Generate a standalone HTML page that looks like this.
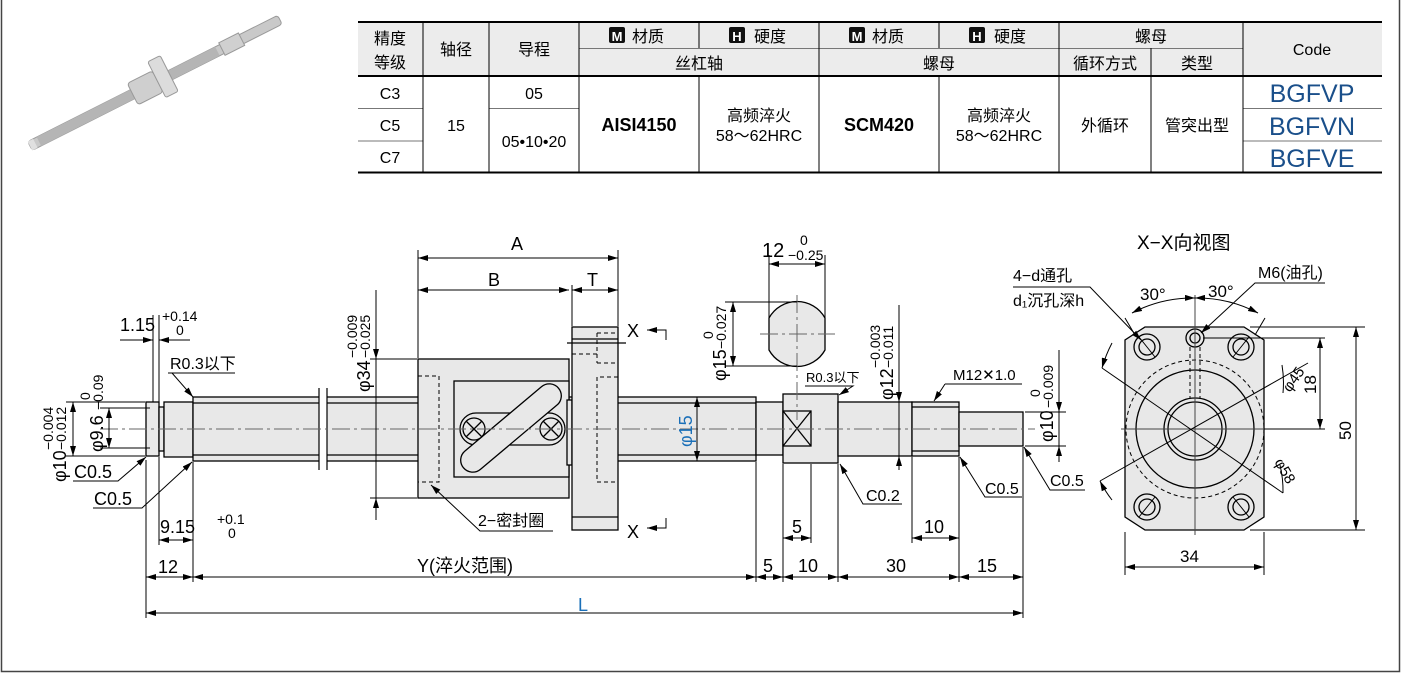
<!DOCTYPE html>
<html><head><meta charset="utf-8"><style>
html,body{margin:0;padding:0;background:#fff;}
svg{display:block;font-family:"Liberation Sans","Noto Sans CJK SC",sans-serif;}
</style></head><body>
<svg width="1401" height="675" viewBox="0 0 1401 675" xmlns="http://www.w3.org/2000/svg">
<defs>
<marker id="a" viewBox="0 0 10 6" refX="10" refY="3" markerWidth="10" markerHeight="6" markerUnits="userSpaceOnUse" orient="auto-start-reverse"><path d="M0,0L10,3L0,6z" fill="#000"/></marker>
</defs>
<path d="M1.5,0V671.5H1399.5V0" fill="none" stroke="#444" stroke-width="1.5"/>

<g transform="translate(30,146) rotate(-26.8)">
<rect x="0" y="-5" width="280" height="10" rx="3" fill="#c9c9c9" stroke="#9a9a9a"/>
<rect x="10" y="-5" width="200" height="10" fill="#b5b5b5"/>
<rect x="115" y="-12" width="28" height="24" rx="3" fill="#cfcfcf" stroke="#999"/>
<rect x="143" y="-22" width="14" height="40" rx="2" fill="#dcdcdc" stroke="#999"/>
<rect x="215" y="-7" width="22" height="14" fill="#d0d0d0" stroke="#999"/>
<rect x="0" y="-5" width="6" height="10" fill="#e0e0e0"/>
</g>

<g font-size="16" text-anchor="middle">
<rect x="358" y="22" width="1024" height="54" fill="#ececec"/>
<g stroke="#000" fill="none">
<path d="M358,22H1382M358,76H1382M358,172.5H1382" stroke-width="2"/>
<path d="M579,48.5H1243M358,108.5H423M489,108.5H579M358,141H423M1243,108.5H1382M1243,141H1382" stroke="#777"/>
<path d="M423,22V172M489,22V172M579,22V172M819,22V172M1059,22V172M1243,22V172M699,22V48M699,76V172M939,22V48M939,76V172M1151,48V172"/>
</g>
<text x="390" y="44">精度</text><text x="390" y="68">等级</text>
<text x="456" y="55">轴径</text><text x="534" y="55">导程</text>
<rect x="609" y="27" width="16" height="16" rx="2" fill="#111"/><text x="617" y="41" fill="#fff" font-size="13" font-weight="bold">M</text><text x="648" y="42">材质</text>
<rect x="729" y="27" width="16" height="16" rx="2" fill="#111"/><text x="737" y="41" fill="#fff" font-size="13" font-weight="bold">H</text><text x="770" y="42">硬度</text>
<rect x="849" y="27" width="16" height="16" rx="2" fill="#111"/><text x="857" y="41" fill="#fff" font-size="13" font-weight="bold">M</text><text x="888" y="42">材质</text>
<rect x="969" y="27" width="16" height="16" rx="2" fill="#111"/><text x="977" y="41" fill="#fff" font-size="13" font-weight="bold">H</text><text x="1010" y="42">硬度</text>
<text x="1151" y="42">螺母</text>
<text x="699" y="69">丝杠轴</text><text x="939" y="69">螺母</text>
<text x="1105" y="69">循环方式</text><text x="1197" y="69">类型</text>
<text x="1312" y="55">Code</text>
<text x="390" y="99">C3</text><text x="390" y="131">C5</text><text x="390" y="163">C7</text>
<text x="456" y="131">15</text><text x="534" y="99">05</text><text x="534" y="147">05•10•20</text>
<text x="639" y="131" font-weight="bold" font-size="18">AISI4150</text>
<text x="759" y="121">高频淬火</text><text x="759" y="141">58～62HRC</text>
<text x="879" y="131" font-weight="bold" font-size="18">SCM420</text>
<text x="999" y="121">高频淬火</text><text x="999" y="141">58～62HRC</text>
<text x="1105" y="131">外循环</text><text x="1197" y="131">管突出型</text>
<g fill="#1a4f8a" font-size="25"><text x="1312" y="102">BGFVP</text><text x="1312" y="135">BGFVN</text><text x="1312" y="167">BGFVE</text></g>
</g>

<g stroke="#000" stroke-width="1.3" fill="#e8e8e8">
<rect x="146" y="402" width="13" height="54"/>
<rect x="159" y="407" width="5" height="44"/>
<rect x="164" y="402" width="29" height="55"/>
<rect x="193" y="397" width="563" height="64"/>
<path d="M193,403H756M193,455H756" fill="none"/>
<rect x="418" y="359" width="151" height="139"/>
<rect x="454" y="381" width="115" height="96"/>
<rect x="567" y="400" width="5" height="65"/>
<rect x="572" y="327" width="46" height="203"/>
<path d="M572,339H618M572,517H618M567,343H626" fill="none"/>
<rect x="460" y="413" width="105" height="32" rx="16"/>
<g transform="translate(511,428) rotate(-40)"><rect x="-62" y="-12" width="124" height="24" rx="12"/></g>
<circle cx="474" cy="429" r="11"/><circle cx="551" cy="429" r="11"/>
<path d="M466,421l16,16M482,421l-16,16M543,421l16,16M559,421l-16,16" fill="none"/>
<rect x="756" y="402" width="27" height="53"/>
<rect x="783" y="394" width="55" height="69"/>
<rect x="783" y="411" width="28" height="35"/>
<path d="M783,411L811,446M811,411L783,446" fill="none"/>
<rect x="838" y="402" width="74" height="54"/>
<rect x="912" y="402" width="47" height="54"/>
<path d="M912,407H959M912,451H959" fill="none"/>
<rect x="959" y="412" width="64" height="34"/>
<path d="M769,318 A32,32 0 0 1 825,318 V350 A32,32 0 0 1 769,350 Z"/>
</g>
<rect x="319" y="390" width="8" height="78" fill="#fff"/>
<path d="M319,388V470M327,388V470" stroke="#000" stroke-width="1.2"/>
<g stroke="#000" stroke-width="1" fill="none" stroke-dasharray="4,3">
<path d="M418,376H439V482H418"/>
<path d="M618,377H597V482H618M597,333H618M572,354H597M597,363H618M597,333V363"/>
</g>
<g stroke="#666" stroke-width="1" stroke-dasharray="18,4,3,4" fill="none">
<path d="M100,429H1035"/>
<path d="M760,334H835M797,295V420"/>
</g>

<g stroke="#000" stroke-width="1" fill="none">
<path d="M146,460V618M193,462V582M756,462V582M783,464V582M838,464V582M959,457V582M1023,447V618M159,457V545M153,315V402M159,315V402"/>
<path d="M418,250V358M618,250V326M572,285V326"/>
<path d="M370,359H417M370,498H417"/>
<path d="M66,402H145M66,456H145M100,408H150M100,448H150"/>
<path d="M811,464V543M912,457V543"/>
<path d="M893,402H912M893,456H912M1025,412H1066M1025,446H1066"/>
<path d="M769,318V255M825,318V255M725,302H797M725,366H797"/>
<path d="M620,397H703M620,461H703"/>
<path d="M418,258H618" marker-start="url(#a)" marker-end="url(#a)"/>
<path d="M418,290H569" marker-start="url(#a)" marker-end="url(#a)"/>
<path d="M572,290H618" marker-start="url(#a)" marker-end="url(#a)"/>
<path d="M146,577H193" marker-start="url(#a)" marker-end="url(#a)"/>
<path d="M193,577H756" marker-start="url(#a)" marker-end="url(#a)"/>
<path d="M756,577H783" marker-start="url(#a)" marker-end="url(#a)"/>
<path d="M783,577H838" marker-start="url(#a)" marker-end="url(#a)"/>
<path d="M838,577H959" marker-start="url(#a)" marker-end="url(#a)"/>
<path d="M959,577H1023" marker-start="url(#a)" marker-end="url(#a)"/>
<path d="M146,613H1023" marker-start="url(#a)" marker-end="url(#a)"/>
<path d="M159,540H193" marker-start="url(#a)" marker-end="url(#a)"/>
<path d="M783,538H811" marker-start="url(#a)" marker-end="url(#a)"/>
<path d="M912,538H959" marker-start="url(#a)" marker-end="url(#a)"/>
<path d="M120,340H153" marker-end="url(#a)"/><path d="M190,340H159" marker-end="url(#a)"/>
<path d="M73,402V456" marker-start="url(#a)" marker-end="url(#a)"/>
<path d="M109,408V448" marker-start="url(#a)" marker-end="url(#a)"/>
<path d="M376,290V359" marker-end="url(#a)"/><path d="M376,520V498" marker-end="url(#a)"/>
<path d="M376,359V498"/>
<path d="M697,397V461" marker-start="url(#a)" marker-end="url(#a)"/>
<path d="M769,264H825" marker-start="url(#a)" marker-end="url(#a)"/>
<path d="M733,302V366" marker-start="url(#a)" marker-end="url(#a)"/>
<path d="M899,305V402" marker-end="url(#a)"/><path d="M899,470V456" marker-end="url(#a)"/><path d="M899,402V456"/>
<path d="M1059,350V412" marker-end="url(#a)"/><path d="M1059,462V446" marker-end="url(#a)"/><path d="M1059,412V446"/>
<path d="M666,340V330H647" marker-end="url(#a)"/>
<path d="M666,518V528H647" marker-end="url(#a)"/>
<path d="M168,373H235M172,373L193,397" marker-end="url(#a)"/>
<path d="M73,481H118L146,457" marker-end="url(#a)"/>
<path d="M93,508H142L192,462" marker-end="url(#a)"/>
<path d="M553,531H480L431,485" marker-end="url(#a)"/>
<path d="M805,386H853L839,395" marker-end="url(#a)"/>
<path d="M945,384H1022M945,384L934,401" marker-end="url(#a)"/>
<path d="M902,504H863L840,464" marker-end="url(#a)"/>
<path d="M1022,497H985L960,457" marker-end="url(#a)"/>
<path d="M1085,490H1050L1024,447" marker-end="url(#a)"/>
</g>

<g font-size="18" fill="#000">
<text x="511" y="250">A</text>
<text x="488" y="286">B</text>
<text x="587" y="286">T</text>
<text x="627" y="337">X</text>
<text x="627" y="538">X</text>
<text x="158" y="573">12</text>
<text x="417" y="572">Y(淬火范围)</text>
<text x="763" y="572">5</text>
<text x="798" y="572">10</text>
<text x="886" y="572">30</text>
<text x="977" y="572">15</text>
<text x="792" y="533">5</text>
<text x="924" y="533">10</text>
<text x="578" y="611" fill="#1a6fb8">L</text>
<text x="160" y="533">9.15</text>
<text x="217" y="524" font-size="14">+0.1</text><text x="228" y="538" font-size="14">0</text>
<text x="120" y="331">1.15</text>
<text x="162" y="321" font-size="14">+0.14</text><text x="176" y="335" font-size="14">0</text>
<text x="170" y="369" font-size="16">R0.3以下</text>
<text x="74" y="478">C0.5</text>
<text x="94" y="505">C0.5</text>
<text x="478" y="526" font-size="16">2−密封圈</text>
<text x="806" y="382" font-size="13">R0.3以下</text>
<text x="953" y="380" font-size="15">M12✕1.0</text>
<text x="866" y="501" font-size="16">C0.2</text>
<text x="985" y="494" font-size="16">C0.5</text>
<text x="1050" y="486" font-size="16">C0.5</text>
<text x="762" y="257" font-size="20">12</text>
<text x="800" y="245" font-size="14">0</text><text x="788" y="260" font-size="14">−0.25</text>
<g transform="translate(370,392) rotate(-90)"><text x="0" y="0">φ34</text><text x="34" y="-13" font-size="14">−0.009</text><text x="34" y="0" font-size="14">−0.025</text></g>
<g transform="translate(66,482) rotate(-90)"><text x="0" y="0">φ10</text><text x="32" y="-13" font-size="14">−0.004</text><text x="32" y="0" font-size="14">−0.012</text></g>
<g transform="translate(103,452) rotate(-90)"><text x="0" y="0">φ9.6</text><text x="52" y="-13" font-size="14">0</text><text x="42" y="0" font-size="14">−0.09</text></g>
<g transform="translate(692,447) rotate(-90)"><text x="0" y="0" fill="#1a6fb8">φ15</text></g>
<g transform="translate(726,381) rotate(-90)"><text x="0" y="0">φ15</text><text x="42" y="-13" font-size="14">0</text><text x="32" y="0" font-size="14">−0.027</text></g>
<g transform="translate(893,400) rotate(-90)"><text x="0" y="0">φ12</text><text x="32" y="-13" font-size="14">−0.003</text><text x="32" y="0" font-size="14">−0.011</text></g>
<g transform="translate(1053,442) rotate(-90)"><text x="0" y="0">φ10</text><text x="45" y="-13" font-size="14">0</text><text x="34" y="0" font-size="14">−0.009</text></g>
</g>

<text x="1137" y="249" font-size="19">X−X向视图</text>
<g stroke="#000" stroke-width="1.3" fill="#e8e8e8">
<path d="M1145,327H1244L1264,340V517L1244,530H1145L1125,517V340Z"/>
<circle cx="1195" cy="429" r="59"/>
<circle cx="1195" cy="429" r="31"/>
<circle cx="1195" cy="429" r="27"/>
<g fill="none"><circle cx="1147" cy="347" r="13"/><circle cx="1147" cy="347" r="8"/>
<circle cx="1241" cy="347" r="13"/><circle cx="1241" cy="347" r="8"/>
<circle cx="1147" cy="507" r="13"/><circle cx="1147" cy="507" r="8"/>
<circle cx="1241" cy="507" r="13"/><circle cx="1241" cy="507" r="8"/>
<circle cx="1195" cy="338" r="9"/><circle cx="1195" cy="338" r="5"/></g>
</g>
<g stroke="#000" stroke-width="1" fill="none">
<circle cx="1195" cy="429" r="69" stroke-dasharray="4,3"/>
<path d="M1190,347V398M1200,347V398" stroke-dasharray="4,3"/>
<path d="M1195,295V535M1121,429H1270" stroke="#444"/>
<path d="M1102,368L1283,493M1100,481L1308,363"/>
<path d="M1139,337L1155,357M1249,337L1233,357M1139,517L1155,497M1249,517L1233,497"/>
<path d="M1135,335L1125,318M1255,335L1265,318"/>
<path d="M1132,313A131,131 0 0 1 1195,298" marker-start="url(#a)" marker-end="url(#a)"/>
<path d="M1195,298A131,131 0 0 1 1258,313" marker-start="url(#a)" marker-end="url(#a)"/>
<path d="M1112,343A131,131 0 0 0 1102,368" marker-end="url(#a)"/>
<path d="M1112,500A110,110 0 0 1 1100,481" marker-end="url(#a)"/>
<path d="M1280,465A110,110 0 0 1 1283,493"/>
<path d="M1282,365A110,110 0 0 1 1283,393"/>
<path d="M1250,327H1365M1250,530H1365M1203,338H1325"/>
<path d="M1356,327V530" marker-start="url(#a)" marker-end="url(#a)"/>
<path d="M1320,338V429" marker-start="url(#a)" marker-end="url(#a)"/>
<path d="M1264,429H1325"/>
<path d="M1125,532V575M1264,532V575"/>
<path d="M1125,567H1264" marker-start="url(#a)" marker-end="url(#a)"/>
<path d="M1013,287H1090L1141,340" marker-end="url(#a)"/>
<path d="M1325,283H1255L1201,333" marker-end="url(#a)"/>
</g>
<g font-size="17">
<text x="1013" y="281" font-size="16">4−d通孔</text>
<text x="1013" y="306" font-size="16">d₁沉孔深h</text>
<text x="1258" y="278" font-size="16">M6(油孔)</text>
<text x="1140" y="300">30°</text>
<text x="1208" y="297">30°</text>
<text x="1180" y="562">34</text>
<g transform="translate(1351,440) rotate(-90)"><text x="0" y="0">50</text></g>
<g transform="translate(1316,394) rotate(-90)"><text x="0" y="0">18</text></g>
<g transform="translate(1290,393) rotate(-55)"><text x="0" y="0" font-size="15">φ45</text></g>
<g transform="translate(1274,462) rotate(60)"><text x="0" y="0" font-size="15">φ58</text></g>
</g>
</svg>
</body></html>
